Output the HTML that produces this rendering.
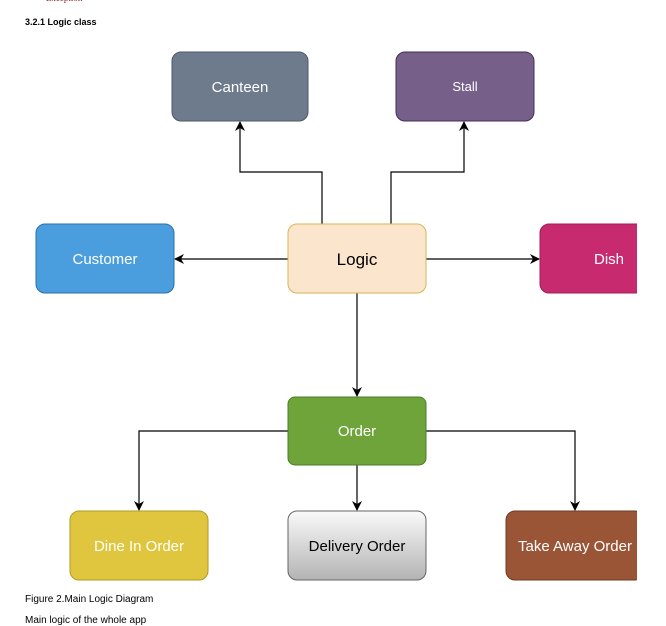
<!DOCTYPE html>
<html><head><meta charset="utf-8"><style>
body{margin:0;width:666px;height:621px;background:#fff;overflow:hidden;position:relative;font-family:"Liberation Sans",sans-serif}
.t{position:absolute;font-size:10px;color:#000}
</style></head><body>
<div class="t" style="left:36px;top:-7px;color:#8b1a1a;font-family:'Liberation Serif',serif;font-size:9px">&#8226;&nbsp;&nbsp;&nbsp;Exception</div>
<div class="t" style="left:25px;top:17px;font-weight:bold;font-size:9px">3.2.1 Logic class</div>
<svg style="position:absolute;left:0;top:0" width="637" height="590" viewBox="0 0 637 590">
<defs>
<marker id="a" markerWidth="10" markerHeight="10" refX="9" refY="5" orient="auto" markerUnits="userSpaceOnUse"><path d="M0,0 L10,5 L0,10 L3,5 z" fill="#000"/></marker>
<linearGradient id="g" x1="0" y1="0" x2="0" y2="1"><stop offset="0" stop-color="#fafafa"/><stop offset="1" stop-color="#b3b3b3"/></linearGradient>
</defs>
<g fill="none" stroke="#000" stroke-width="1.2">
<path d="M322,224 V172 H240 V122" marker-end="url(#a)"/>
<path d="M391,224 V172 H464 V122" marker-end="url(#a)"/>
<path d="M288,259 H175" marker-end="url(#a)"/>
<path d="M426,259 H539" marker-end="url(#a)"/>
<path d="M357,293 V396" marker-end="url(#a)"/>
<path d="M288,431 H139 V510" marker-end="url(#a)"/>
<path d="M357,465 V510" marker-end="url(#a)"/>
<path d="M426,431 H575 V510" marker-end="url(#a)"/>
</g>
<g font-family="Liberation Sans,sans-serif" font-size="15" text-anchor="middle" fill="#fff">
<rect x="172" y="52" width="136" height="69" rx="9" fill="#6d7b8d" stroke="#4e5a68"/><text x="240" y="92">Canteen</text>
<rect x="396" y="52" width="138" height="69" rx="9" fill="#76608a" stroke="#432d57"/><text x="465" y="91" font-size="13">Stall</text>
<rect x="36" y="224" width="138" height="69" rx="9" fill="#4a9ede" stroke="#2a6fad"/><text x="105" y="264">Customer</text>
<rect x="288" y="224" width="138" height="69" rx="9" fill="#fce5cd" stroke="#d6b656"/><text x="357" y="265" fill="#000" font-size="17">Logic</text>
<rect x="540" y="224" width="138" height="69" rx="9" fill="#c72a6e" stroke="#a01e55"/><text x="609" y="264">Dish</text>
<rect x="288" y="397" width="138" height="68" rx="7" fill="#6fa43a" stroke="#4d7a25"/><text x="357" y="436">Order</text>
<rect x="70" y="511" width="138" height="69" rx="9" fill="#e0c63f" stroke="#b09a20"/><text x="139" y="551">Dine In Order</text>
<rect x="288" y="511" width="138" height="69" rx="9" fill="url(#g)" stroke="#666"/><text x="357" y="551" fill="#000">Delivery Order</text>
<rect x="506" y="511" width="138" height="69" rx="9" fill="#9a5536" stroke="#6d3a22"/><text x="575" y="551">Take Away Order</text>
</g>
</svg>
<div class="t" style="left:25px;top:594px">Figure 2.Main Logic Diagram</div>
<div class="t" style="left:25px;top:615px">Main logic of the whole app</div>
</body></html>
